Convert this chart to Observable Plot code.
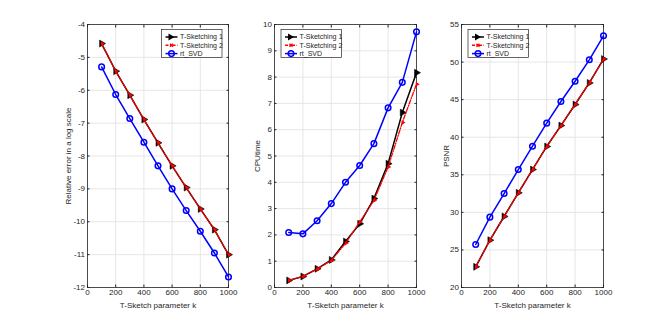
<!DOCTYPE html>
<html><head><meta charset="utf-8">
<script src="https://cdn.jsdelivr.net/npm/d3@7"></script>
<script src="https://cdn.jsdelivr.net/npm/@observablehq/plot@0.6"></script>
<style>
body{margin:0;background:#fff;}
#c{position:relative;width:667px;height:323px;font-family:"Liberation Sans",Arial,sans-serif;}
#c svg{position:absolute;top:0;overflow:visible;}
</style></head>
<body><div id="c"></div>
<script>
const k = [100,200,300,400,500,600,700,800,900,1000];
const seriesNames = ["T-Sketching 1","T-Sketching 2","rt_SVD"];
// Panel 1: relative error (log scale)
const errTS1 = [-4.58,-5.42,-6.15,-6.89,-7.6,-8.3,-8.96,-9.61,-10.24,-11.0];
const errTS2 = [-4.58,-5.42,-6.15,-6.89,-7.6,-8.3,-8.96,-9.61,-10.24,-11.0];
const errSVD = [-5.29,-6.13,-6.86,-7.58,-8.3,-9.0,-9.66,-10.29,-10.95,-11.68];
// Panel 2: CPU time
const cpuTS1 = [0.27,0.42,0.71,1.05,1.75,2.42,3.38,4.71,6.65,8.17];
const cpuTS2 = [0.27,0.42,0.7,1.03,1.68,2.49,3.31,4.58,6.27,7.73];
const cpuSVD = [2.09,2.04,2.54,3.19,4.0,4.64,5.47,6.83,7.80,9.72];
// Panel 3: PSNR
const psnrTS1 = [22.75,26.3,29.45,32.6,35.7,38.77,41.55,44.35,47.23,50.4];
const psnrTS2 = [22.75,26.3,29.45,32.6,35.7,38.77,41.55,44.35,47.23,50.4];
const psnrSVD = [25.72,29.36,32.5,35.7,38.8,41.87,44.75,47.45,50.3,53.5];
const xTicks = [0,200,400,600,800,1000];
const yTicks1 = [-12,-11,-10,-9,-8,-7,-6,-5,-4];
const yTicks2 = [0,1,2,3,4,5,6,7,8,9,10];
const yTicks3 = [20,25,30,35,40,45,50,55];

function rows(a){return k.map((x,i)=>({k:x,v:a[i]}));}

const FONT = '"Liberation Sans",Arial,sans-serif';
const TXT = "#262626";
const fmt = d => String(d);

function panel({left,width,mL,mR,yDomain,yTicks,yLabel,labelOffset,ts1,ts2,svd,legX}){
  const p = Plot.plot({
    width, height:323,
    marginTop:24, marginBottom:36, marginLeft:mL, marginRight:mR,
    style:{fontFamily:FONT,fontSize:"7.5px",color:TXT,background:"transparent"},
    x:{domain:[0,1000]},
    y:{domain:yDomain},
    marks:[
      Plot.gridX(xTicks,{stroke:"#e6e6e6",strokeOpacity:1}),
      Plot.gridY(yTicks,{stroke:"#e6e6e6",strokeOpacity:1}),
      Plot.frame({stroke:TXT,strokeWidth:0.8}),
      Plot.axisX({ticks:xTicks,tickFormat:fmt,tickSize:-2.5,tickPadding:4,stroke:TXT,fill:TXT,label:"T-Sketch parameter k",labelAnchor:"center",labelArrow:"none",labelOffset:20,fontSize:8}),
      Plot.axisX({ticks:xTicks,anchor:"top",tickSize:-2.5,text:null,label:null,stroke:TXT}),
      Plot.axisY({ticks:yTicks,tickFormat:fmt,tickSize:-2.5,tickPadding:5,stroke:TXT,fill:TXT,label:yLabel,labelAnchor:"center",labelArrow:"none",labelOffset:labelOffset,fontSize:8}),
      Plot.axisY({ticks:yTicks,anchor:"right",tickSize:-2.5,text:null,label:null,stroke:TXT}),
      Plot.line(rows(svd),{x:"k",y:"v",stroke:"#0000ff",strokeWidth:1.5}),
      Plot.dot(rows(svd),{x:"k",y:"v",r:2.8,stroke:"#0000ff",strokeWidth:1.5,fill:"none"}),
      Plot.line(rows(ts1),{x:"k",y:"v",stroke:"#000",strokeWidth:1.5}),
      Plot.dot(rows(ts1),{x:"k",y:"v",symbol:"triangle",r:2.6,rotate:90,fill:"#000",stroke:"#000",strokeWidth:0.5}),
      Plot.line(rows(ts2),{x:"k",y:"v",stroke:"#ff0000",strokeWidth:1.3,strokeDasharray:"4,1.5,1,1.5"}),
      Plot.dot(rows(ts2),{x:"k",y:"v",symbol:"triangle",r:1.7,rotate:90,fill:"#ff0000",stroke:"none",dx:0.6})
    ]
  });
  p.style.left = left+"px";
  // legend box
  const svg = d3.select(p);
  const g = svg.append("g").attr("transform",`translate(${legX},29.5)`).attr("text-anchor","start");
  g.append("rect").attr("width",60.5).attr("height",28).attr("fill","#fff").attr("stroke",TXT).attr("stroke-width",0.7);
  const cols=["#000","#ff0000","#0000ff"];
  seriesNames.forEach((name,i)=>{
    const y = 7.5+i*8.3;
    const r = g.append("g").attr("transform",`translate(0,${y})`);
    r.append("line").attr("x1",4).attr("x2",16).attr("y1",0).attr("y2",0).attr("stroke",cols[i]).attr("stroke-width",1.5)
      .attr("stroke-dasharray",i===1?"3,1.5,1,1.5":null);
    if(i===0) r.append("path").attr("d","M7,-3.5L13,0L7,3.5Z").attr("fill","#000");
    if(i===1) r.append("path").attr("d","M8.5,-1.5L11.5,1.5M8.5,1.5L11.5,-1.5").attr("stroke","#ff0000").attr("stroke-width",1.3);
    if(i===2) r.append("circle").attr("cx",10).attr("cy",0).attr("r",2.8).attr("fill","none").attr("stroke","#0000ff").attr("stroke-width",1.5);
    r.append("text").attr("x",18.5).attr("y",0).attr("dy","0.35em").attr("text-anchor","start").attr("font-size","7px").attr("fill",TXT).attr("font-family",FONT).text(name);
  });
  document.getElementById("c").appendChild(p);
}

panel({left:0,width:235,mL:87,mR:7,yDomain:[-12,-4],yTicks:yTicks1,yLabel:"Relative error in a log scale",labelOffset:22,ts1:errTS1,ts2:errTS2,svd:errSVD,legX:161.5});
panel({left:235,width:187,mL:39,mR:6,yDomain:[0,10],yTicks:yTicks2,yLabel:"CPUtime",labelOffset:20,ts1:cpuTS1,ts2:cpuTS2,svd:cpuSVD,legX:46});
panel({left:422,width:245,mL:39,mR:64,yDomain:[20,55],yTicks:yTicks3,yLabel:"PSNR",labelOffset:18,ts1:psnrTS1,ts2:psnrTS2,svd:psnrSVD,legX:46});
</script></body></html>
